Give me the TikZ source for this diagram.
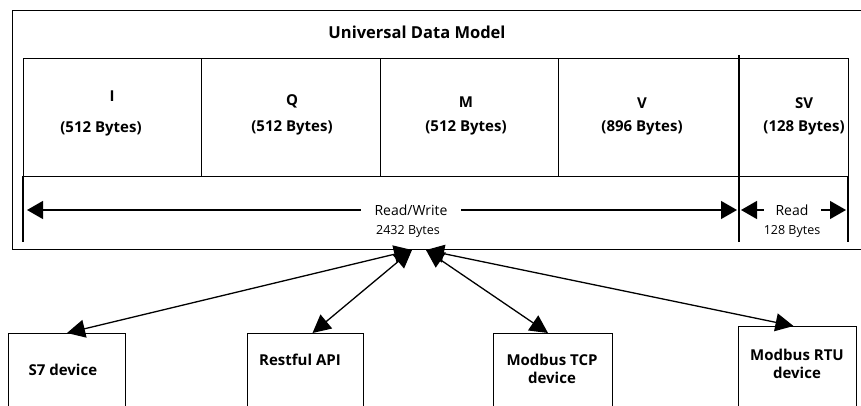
\documentclass[tikz,border=0pt]{standalone}
\usepackage{fontspec}
\setmainfont{Open Sans}
\usetikzlibrary{arrows.meta,positioning}
\begin{document}
\begin{tikzpicture}[x=1pt,y=-1pt,
  line width=1.3pt,
  cellbox/.style={draw, rectangle, anchor=north west, inner sep=0pt, line width=1pt},
  devbox/.style={draw, rectangle, anchor=north west, inner sep=0pt, line width=1pt},
  btxt/.style={font=\fontsize{15}{18}\selectfont\bfseries, inner sep=0pt, align=center},
  ttxt/.style={font=\fontsize{16.5}{19}\selectfont\bfseries, inner sep=0pt},
  ntxt/.style={font=\fontsize{14}{16}\selectfont, inner sep=0pt},
  stxt/.style={font=\fontsize{12.5}{14}\selectfont, inner sep=0pt},
  bigtip/.style={-{Triangle[length=16pt,width=18pt]}},
  dbltip/.style={{Triangle[length=18pt,width=18pt]}-{Triangle[length=18pt,width=18pt]}}
]
\clip (0,0) rectangle (861,406);
% outer frame
\node[draw, rectangle, anchor=north west, inner sep=0pt, line width=1pt,
      minimum width=880pt, minimum height=239pt] (frame) at (12,10) {};
\node[ttxt] (title) at (417,32) {Universal Data Model};
% cells
\node[cellbox, minimum width=178pt, minimum height=118pt] (cI) at (23,58) {};
\node[cellbox, minimum width=179pt, minimum height=118pt] (cQ) at (201,58) {};
\node[cellbox, minimum width=178pt, minimum height=118pt] (cM) at (380,58) {};
\node[cellbox, minimum width=181pt, minimum height=118pt] (cV) at (558,58) {};
\node[cellbox, minimum width=109pt, minimum height=118pt] (cSV) at (739,58) {};
% cell labels
\node[btxt] (lI)  at (112,96) {I};
\node[btxt] (bI)  at (101,129) {(512 Bytes)};
\node[btxt] (lQ)  at (292,101) {Q};
\node[btxt] (bQ)  at (292,128) {(512 Bytes)};
\node[btxt] (lM)  at (466,102) {M};
\node[btxt] (bM)  at (466,128) {(512 Bytes)};
\node[btxt] (lV)  at (642,103) {V};
\node[btxt] (bV)  at (642,128) {(896 Bytes)};
\node[btxt] (lSV) at (804,103) {SV};
\node[btxt] (bSV) at (804,128) {(128 Bytes)};
% vertical limit lines
\coordinate (vl0) at (23,176);
\coordinate (vl1) at (23,242);
\coordinate (vm0) at (739,55);
\coordinate (vm1) at (739,242);
\coordinate (vr0) at (848,176);
\coordinate (vr1) at (848,242);
\draw (vl0) -- (vl1);
\draw (vm0) -- (vm1);
\draw (vr0) -- (vr1);
% Read/Write
\node[ntxt] (rw) at (411,210) {Read/Write};
\node[stxt] (rwb) at (408,231) {2432 Bytes};
\coordinate (rwL) at (27,210);
\coordinate (rwR) at (737,210);
\draw[bigtip] ([xshift=-13pt]rw.west) -- (rwL);
\draw[bigtip] ([xshift=13pt]rw.east) -- (rwR);
% Read
\node[ntxt] (rd) at (792,210) {Read};
\node[stxt] (rdb) at (792,231) {128 Bytes};
\coordinate (rdL) at (741,210);
\coordinate (rdR) at (846,210);
\draw[bigtip] ([xshift=-11pt]rd.west) -- (rdL);
\draw[bigtip] ([xshift=12pt]rd.east) -- (rdR);
% devices
\node[devbox, minimum width=117pt, minimum height=100pt] (s7) at (8,333) {};
\node[btxt, anchor=west] (s7t) at (28,370) {S7 device};
\node[devbox, minimum width=116pt, minimum height=100pt] (rest) at (247,333) {};
\node[btxt] (restt) at (300,360) {Restful API};
\node[devbox, minimum width=119pt, minimum height=100pt] (tcp) at (493,333) {};
\node[btxt] (tcpt) at (552,369) {Modbus TCP\\device};
\node[devbox, minimum width=118pt, minimum height=100pt] (rtu) at (738,326) {};
\node[btxt] (rtut) at (797,364) {Modbus RTU\\device};
% hubs
\coordinate (hubL) at (412,250);
\coordinate (hubR) at (426,250);
\draw[dbltip] (hubL) -- (s7.north);
\draw[dbltip] (hubL) -- ([xshift=7pt]rest.north);
\draw[dbltip] (hubR) -- ([xshift=-5pt]tcp.north);
\draw[dbltip] (hubR) -- ([xshift=-4pt]rtu.north);
\end{tikzpicture}
\end{document}
